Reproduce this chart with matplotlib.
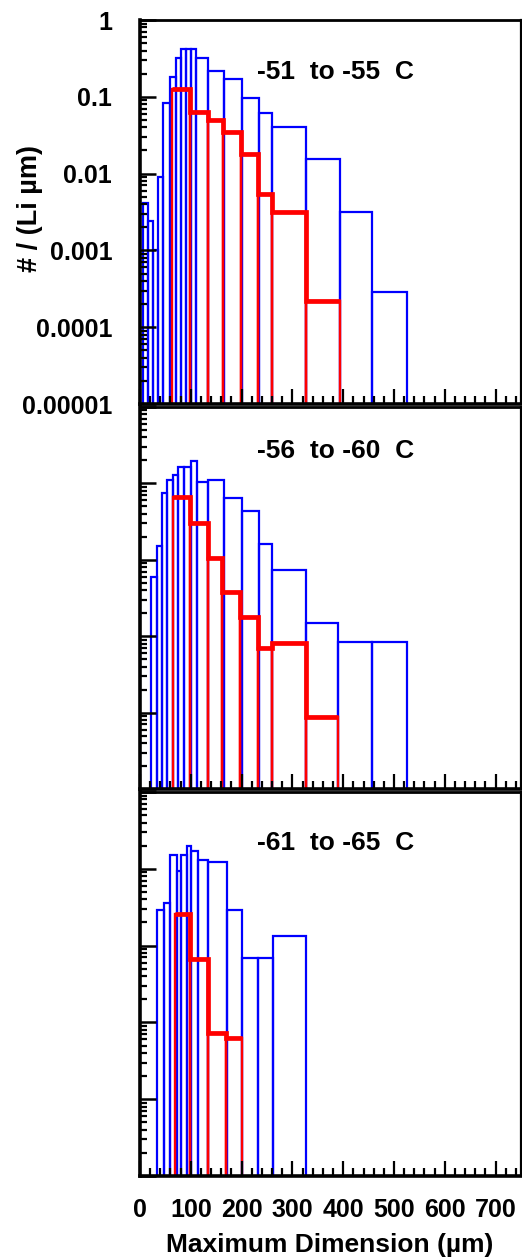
import matplotlib
matplotlib.use("Agg")
import matplotlib.pyplot as plt
import numpy as np
from matplotlib.ticker import FixedLocator, FixedFormatter, MultipleLocator, NullFormatter, LogLocator

plt.rcParams['font.family'] = ['Liberation Sans', 'DejaVu Sans']
plt.rcParams['font.weight'] = 'bold'

# ---- data: size distributions per temperature range ----
titles = ["-51  to -55  C", "-56  to -60  C", "-61  to -65  C"]

p1_blue_edges = [5, 15, 25, 35, 45, 60, 70, 80, 90, 100, 110, 133, 165, 200, 234, 260, 327, 394, 457, 525]
p1_blue_vals = [0.0041, 0.0024, 0.001, 0.0091, 0.083, 0.18, 0.32, 0.42, 0.42, 0.42, 0.32,
                0.22, 0.17, 0.097, 0.061, 0.040, 0.0155, 0.0032, 0.00029]
p1_red_edges = [63, 98, 133, 164, 199, 232, 260, 327, 394]
p1_red_vals = [0.127, 0.064, 0.050, 0.035, 0.018, 0.0054, 0.0032, 0.00022]

p2_blue_edges = [22, 33, 43, 54, 64, 75, 87, 100, 112, 133, 165, 200, 235, 260, 327, 390, 457, 525]
p2_blue_vals = [0.0059, 0.015, 0.076, 0.11, 0.13, 0.165, 0.165, 0.195, 0.103, 0.11,
                0.064, 0.044, 0.016, 0.0074, 0.0015, 0.00085, 0.00085]
p2_red_edges = [64, 98, 133, 162, 197, 232, 260, 327, 390]
p2_red_vals = [0.067, 0.030, 0.0104, 0.0038, 0.0018, 0.00071, 0.00082, 0.000087]

p3_blue_edges = [33, 47, 59, 72, 80, 92, 101, 114, 134, 172, 201, 232, 262, 326]
p3_blue_vals = [0.029, 0.036, 0.153, 0.093, 0.153, 0.196, 0.169, 0.132, 0.122,
                0.029, 0.0069, 0.0069, 0.0133]
p3_red_edges = [68, 99, 133, 169, 201]
p3_red_vals = [0.0257, 0.0067, 0.00072, 0.00062]

y_ticks = [1e-5, 1e-4, 1e-3, 1e-2, 1e-1, 1]
y_tick_labels = ["0.00001", "0.0001", "0.001", "0.01", "0.1", "1"]
x_ticks = [0, 100, 200, 300, 400, 500, 600, 700]
x_tick_labels = ["0", "100", "200", "300", "400", "500", "600", "700"]

panels = [
    (p1_blue_edges, p1_blue_vals, p1_red_edges, p1_red_vals),
    (p2_blue_edges, p2_blue_vals, p2_red_edges, p2_red_vals),
    (p3_blue_edges, p3_blue_vals, p3_red_edges, p3_red_vals),
]

BLUE = "#0000ff"
RED = "#ff0000"
FLOOR = 1e-6  # bars start below the visible axis range

W, H = 522, 1260
fig = plt.figure(figsize=(W / 100, H / 100), dpi=100)
boxes = [(20, 404), (407, 789), (792, 1176)]
left_px, right_px = 140, 521
title_y = [0.864, 0.884, 0.867]


def outline_bars(ax, edges, vals, color, lw):
    edges = np.asarray(edges, float)
    vals = np.asarray(vals, float)
    ax.bar(edges[:-1], vals - FLOOR, width=np.diff(edges), bottom=FLOOR,
           align="edge", fill=False, edgecolor=color, linewidth=lw)


for i, ((top, bot), (be, bv, re, rv)) in enumerate(zip(boxes, panels)):
    ax = fig.add_axes([left_px / W, 1 - bot / H, (right_px - left_px) / W, (bot - top) / H])
    ax.set_yscale("log")

    outline_bars(ax, be, bv, BLUE, 1.6)
    outline_bars(ax, re, rv, RED, 1.7)
    ax.stairs(rv, re, color=RED, linewidth=3.4, baseline=None)

    ax.set_xlim(0, 750)
    ax.set_ylim(1e-5, 1)

    ax.yaxis.set_major_locator(FixedLocator(y_ticks))
    ax.yaxis.set_minor_locator(LogLocator(base=10, subs=np.arange(2, 10)))
    ax.xaxis.set_major_locator(FixedLocator(x_ticks))
    ax.xaxis.set_minor_locator(MultipleLocator(20))
    ax.yaxis.set_minor_formatter(NullFormatter())

    if i == 0:
        ax.yaxis.set_major_formatter(FixedFormatter(y_tick_labels))
    else:
        ax.yaxis.set_major_formatter(NullFormatter())
    if i == 2:
        ax.xaxis.set_major_formatter(FixedFormatter(x_tick_labels))
    else:
        ax.xaxis.set_major_formatter(NullFormatter())

    ax.tick_params(axis="both", which="both", direction="in", top=False, right=False,
                   labelsize=18, color="black")
    ax.tick_params(axis="y", which="major", length=11.5, width=1.8, pad=20)
    ax.tick_params(axis="y", which="minor", length=5, width=1.6)
    ax.tick_params(axis="x", which="major", length=10.5, width=1.6, pad=16)
    ax.tick_params(axis="x", which="minor", length=5.5, width=1.6)
    for lab in ax.get_xticklabels() + ax.get_yticklabels():
        lab.set_fontweight("bold")

    for side, lw in (("left", 2.6), ("bottom", 2.6), ("top", 2.0), ("right", 1.6)):
        ax.spines[side].set_linewidth(lw)

    ax.text(0.307, title_y[i], titles[i], transform=ax.transAxes, ha="left", va="center",
            fontsize=19, fontweight="bold")

fig.text(30 / W, 1 - 208 / H, "# / (Li µm)", rotation=90, ha="center", va="center",
         fontsize=19.5, fontweight="bold")
fig.text(330 / W, 1 - 1245 / H, "Maximum Dimension (µm)", ha="center", va="center",
         fontsize=19, fontweight="bold")

fig.savefig("out.png", dpi=100)
